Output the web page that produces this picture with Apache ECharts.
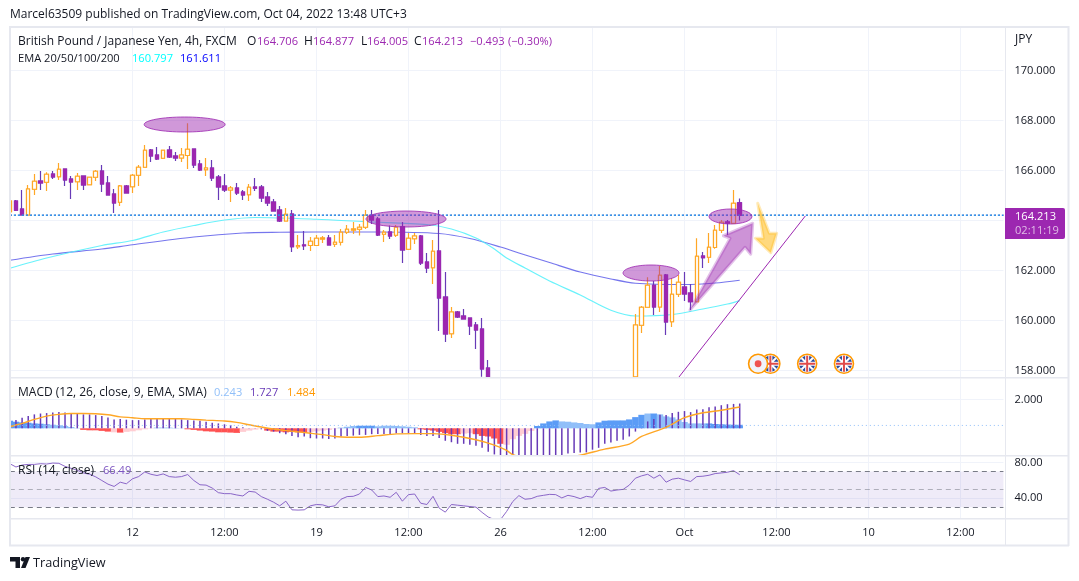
<!DOCTYPE html>
<html>
<head>
<meta charset="utf-8">
<title>GBP/JPY</title>
<script src="https://cdn.jsdelivr.net/npm/echarts@6/dist/echarts.min.js"></script>
<style>
html,body{margin:0;padding:0;background:#fff}
#chart{width:1079px;height:581px}
</style>
</head>
<body>
<div id="chart"></div>
<script>
const font = '"Open Sans", sans-serif';
const colors = { up:'#ffa726', down:'#9c27b0', downWick:'#673ab7', grid:'#f0f3fa', frame:'#e6e8ef', text:'#131722', signal:'#ffa726' };
const textSize = 12, numSize = 11.1;

// one row per 4h bar: open, close, low, high. null = bar sits below the visible price range
const candles = [
[164.35,164.78,164.3,164.8],[164.78,164.41,164.38,164.82],[164.46,164.22,164.22,165.22],[164.22,165.26,164.22,165.42],[165.25,165.57,165.02,165.86],
[165.58,165.5,165.22,165.98],[165.53,165.85,165.18,165.93],[165.86,165.74,165.66,165.98],[165.75,166.05,165.62,166.3],[166.06,165.62,165.38,166.06],
[165.66,165.54,164.86,165.78],[165.55,165.77,165.22,165.9],[165.78,165.42,165.22,165.78],[165.43,165.73,165.43,165.73],[165.73,165.97,165.58,166.02],
[165.98,165.46,165.14,166.22],[165.5,165.02,165.02,165.78],[165.06,164.7,164.3,165.26],[164.73,165.38,164.58,165.42],[165.38,165.1,165.1,165.42],
[165.35,165.81,165.1,165.86],[165.81,166.13,165.38,166.22],[166.13,166.81,166.13,167.02],[166.82,166.58,166.34,166.86],[166.62,166.46,166.42,166.94],
[166.49,166.81,166.46,166.83],[166.82,166.54,166.5,166.98],[166.58,166.5,166.38,166.74],[166.5,166.62,166.34,166.9],[166.6,166.85,166.06,167.89],
[166.86,166.22,166.1,166.86],[166.26,166.02,165.98,166.42],[166.03,166.1,165.78,166.5],[166.1,165.7,165.58,166.42],[165.74,165.34,164.82,165.82],
[165.38,165.22,165.14,165.86],[165.22,165.3,164.74,165.38],[165.3,165.1,165.02,165.5],[165.14,165.02,164.82,165.22],[165.03,165.33,164.78,165.46],
[165.34,165.29,165.18,165.7],[165.34,164.9,164.74,165.42],[164.94,164.7,164.58,165.14],[164.74,164.38,164.38,164.86],[164.42,163.98,163.94,164.58],
[163.98,164.25,163.98,164.5],[164.26,162.95,162.74,164.42],[162.95,163.0,162.86,163.42],[163.02,162.99,162.82,163.58],[163.0,163.17,162.78,163.34],
[163.0,163.29,163.0,163.42],[163.26,163.3,163.1,163.38],[163.3,163.02,163.02,163.42],[163.05,163.13,162.94,163.42],[163.13,163.53,163.0,163.66],
[163.53,163.65,163.46,163.82],[163.62,163.66,163.46,163.94],[163.65,163.73,163.4,163.86],[163.73,164.21,163.66,164.42],[164.21,164.02,163.86,164.42],
[164.06,163.42,163.38,164.14],[163.45,163.53,163.14,163.62],[163.54,163.38,163.26,163.8],[163.41,163.73,163.34,163.82],[163.75,162.82,162.3,163.94],
[162.85,163.29,162.82,163.5],[163.27,163.38,163.06,163.5],[163.38,162.3,162.22,163.42],[162.34,162.1,161.9,162.7],[162.11,162.77,161.46,163.22],
[162.78,160.9,159.58,164.42],[160.94,159.46,159.14,161.94],[159.47,160.34,159.3,160.54],[160.34,160.14,160.1,160.38],[160.18,160.06,160.06,160.46],
[160.1,159.78,159.42,160.1],[159.82,159.62,158.86,159.94],[159.66,158.06,157.75,160.1],[158.1,157.75,157.75,158.42],
null,null,null,null,null,null,null,null,null,null,null,null,null,null,null,null,null,null,null,null,null,null,null,
[157.75,159.82,157.75,160.26],[159.81,160.53,159.5,160.58],[160.53,161.41,160.53,161.73],[161.41,160.54,160.22,161.58],[160.54,161.81,160.34,162.18],
[161.82,159.94,159.42,161.86],[159.95,161.05,159.74,161.7],[161.05,161.53,160.94,161.82],[161.34,161.06,160.78,161.94],[161.1,160.75,160.42,161.46],
[160.75,162.57,160.75,163.29],[162.58,162.51,162.1,162.74],[162.53,162.93,162.3,163.5],[162.92,163.61,162.87,163.82],[163.61,163.93,163.5,164.02],
[163.94,163.9,163.42,164.02],[163.89,164.69,163.89,165.22],[164.706,164.213,164.005,164.877]
];

// moving averages as [bar, price]
const emaCyan = [[0,162.09],[6,162.5],[15,163.0],[20,163.2],[25,163.54],[30,163.8],[35,164.02],[40,164.12],[50,164.05],[58,163.95],[68,163.84],[72,163.66],[76,163.3],[79,162.86],[81,162.5],[84,162.1],[88,161.58],[93,161.02],[98,160.41],[102,160.18],[108,160.24],[113,160.46],[117,160.66],[119,160.797]];
const emaBlue = [[0,162.41],[7,162.66],[15,162.86],[20,163.03],[30,163.34],[38,163.5],[44,163.53],[50,163.54],[60,163.54],[70,163.48],[75,163.28],[80,162.94],[83,162.7],[88,162.32],[93,161.94],[98,161.66],[102,161.49],[110,161.44],[115,161.5],[119,161.611]];

const macdValues = [.45,.57,.74,.85,.97,1.03,1.06,1.10,1.13,1.10,1.06,1.03,.97,.97,.92,.85,.76,.62,.64,.60,.57,.57,.62,.69,.71,.69,.69,.67,.62,.57,
.55,.53,.46,.39,.34,.28,.23,.11,.07,.02,-.02,-.07,-.18,-.23,-.34,-.41,-.53,-.62,-.57,-.69,-.71,-.71,-.74,-.71,-.57,-.53,-.51,-.46,-.46,-.41,
-.39,-.39,-.39,-.34,-.34,-.34,-.34,-.46,-.53,-.53,-.67,-.87,-.97,-1.08,-1.08,-1.15,-1.22,-1.36,-1.63,-1.82,-1.95,-2.1,-2.2,-2.25,-2.28,-2.28,-2.24,-2.18,-2.1,-2.0,
-1.92,-1.75,-1.72,-1.68,-1.68,-1.49,-1.36,-1.08,-.99,-.87,-.80,-.57,-.23,-.02,.48,.64,.94,.92,1.06,1.15,1.20,1.13,1.31,1.33,1.47,1.52,1.61,1.68,1.70,1.727];
const signalValues = [[0,.11],[1,.23],[2,.34],[4,.62],[6,.85],[8,.97],[10,1.03],[12,1.03],[14,1.01],[16,.94],[18,.80],[20,.74],[22,.67],[24,.67],[28,.67],[30,.62],[32,.57],[35,.51],[37,.41],[39,.25],[41,.09],[43,-.05],[45,-.16],[47,-.25],[49,-.34],[51,-.44],[53,-.57],[55,-.62],[57,-.62],[60,-.51],[63,-.39],[66,-.37],[69,-.37],[72,-.48],[76,-.80],[79,-1.17],[81,-1.54],[82,-1.84],[84,-2.05],[87,-2.2],[90,-2.1],[93,-1.87],[97,-1.45],[101,-1.10],[103,-.57],[107,.07],[110,.74],[113,1.08],[116,1.26],[119,1.484]];
const histValues = [.53,.46,.41,.39,.34,.32,.30,.25,.21,.16,.09,.02,-.11,-.14,-.14,-.18,-.23,-.28,-.30,-.25,-.21,-.14,-.07,-.02,.05,.05,.05,.02,.01,-.07,
-.11,-.16,-.21,-.23,-.28,-.28,-.30,-.32,-.25,-.16,-.09,-.02,-.16,-.23,-.23,-.28,-.25,-.28,-.28,-.25,-.21,-.16,-.11,-.02,.05,.11,.16,.18,.18,.18,
.14,.18,.18,.16,.14,.11,.07,-.07,-.11,-.16,-.25,-.34,-.41,-.41,-.37,-.34,-.41,-.53,-.57,-.71,-1.08,-1.15,-.76,-.53,-.39,-.18,.16,.34,.48,.55,
.48,.46,.41,.37,.30,.28,.41,.53,.55,.55,.55,.62,.78,.94,1.03,1.03,.97,.83,.76,.62,.44,.34,.34,.34,.34,.30,.28,.26,.25,.243];
// last bar of each run, and whether the run is the strong tone
const histRuns = [[5,1],[11,0],[16,1],[17,0],[18,1],[28,0],[37,1],[41,0],[48,1],[56,0],[59,1],[66,0],[73,1],[75,0],[80,1],[85,0],[89,1],[95,0],[103,1],[104,0],[105,1],[113,0],[119,1]];
const histLast = 0.2;

const rsiValues = [78.9,75.2,77.4,78.1,78.1,78.9,78.5,79.6,79.3,75.9,73.7,71.5,68.5,67,64.1,60,55.9,53.3,58.1,56.3,61.9,64.4,69.6,67,65.6,67.4,64.4,63.7,64.4,66.7,
60,55.2,54.8,51.5,46.3,45.2,45.2,43.7,42.6,47.8,47,41.9,38.9,35.6,31.5,36.7,27,26.7,27,31.5,33,32.6,30.4,31.5,38.9,41.9,42.2,44.8,52.2,49.3,
41.9,42.6,41.1,46.7,36.7,44.1,44.8,34.4,33,42.2,28.9,24.4,33,32.2,31.5,30.7,30,24.1,18.9,16,16,25.2,36.3,43,38.9,39.6,42.2,43.3,44.4,44.1,
40.4,43.3,41.9,39.6,42.2,41.1,51.1,52.2,48.1,49.3,50,54.8,62.6,65.2,67,62.6,66.3,58.1,61.5,62.6,60.7,58.9,64.4,64.8,65.9,67.8,68.5,69.3,71.1,66.49];
const rsiLevels = [70,50,30];

const barCount = 163;
const tickBars = [20,35,50,65,80,95,110,125,140,155];
const tickLabels = ['12','12:00','19','12:00','26','12:00','Oct','12:00','10','12:00'];
const priceTicks = [158,160,162,164,166,168,170];
const macdTicks = [2];
const rsiTicks = [40,80];
const lastPrice = 164.213;

// drawings placed on the chart, in bar / price units
const ellipses = [[21.9,35.1,168.14,167.54],[58.07,71.12,164.38,163.74],[99.98,109.1,162.22,161.58],[114,121,164.46,163.86]];
const purpleArrow = [[110.9,160.42],[117.43,163.29],[116.34,163.39],[121.12,163.89],[120.8,162.65],[119.87,162.93]];
const yellowArrow = [[121.94,164.69],[123.84,163.49],[125.03,163.49],[124.06,162.71],[121.56,163.29],[122.86,163.29]];
const trendLine = [[109.1,157.74],[129.7,164.18]];
const eventMarks = [[124,158.27,'uk'],[122,158.27,'dot'],[130,158.27,'uk'],[136,158.27,'uk']];

const categories = Array.from({ length: barCount }, (_, i) => {
    const at = tickBars.indexOf(i);
    return at >= 0 ? tickLabels[at] : '';
});
const isTick = (i) => tickBars.includes(i);

function histColor(value, index) {
    const run = histRuns.find(r => index <= r[0]);
    const strong = run && run[1];
    if (value >= 0) return strong ? '#5b9cf6' : '#90bff9';
    return strong ? '#ff5252' : '#ffcdd2';
}

function renderEllipse(params, api) {
    const a = api.coord([api.value(0), api.value(2)]);
    const b = api.coord([api.value(1), api.value(3)]);
    return {
        type:'ellipse',
        shape:{ cx:(a[0]+b[0])/2, cy:(a[1]+b[1])/2, rx:(b[0]-a[0])/2, ry:(b[1]-a[1])/2 },
        style:{ fill:'rgba(156,39,176,0.48)', stroke:'rgba(156,39,176,0.8)', lineWidth:1 }
    };
}

function renderArrow(points, fill, stroke) {
    return (params, api) => ({
        type:'polygon',
        shape:{ points:points.map(p => api.coord(p)) },
        style:{ fill, stroke, lineWidth:3, lineJoin:'round' }
    });
}

function renderEvent(params, api) {
    const c = api.coord([api.value(0), api.value(1)]);
    const kind = eventMarks[params.dataIndex][2];
    const r = 8;
    const children = [{ type:'circle', shape:{ cx:c[0], cy:c[1], r:9.5 }, style:{ fill: kind === 'uk' ? '#fff' : '#f0f3fa', stroke:'#ff9800', lineWidth:1.6 } }];
    if (kind === 'dot') {
        children.push({ type:'circle', shape:{ cx:c[0], cy:c[1], r:3.4 }, style:{ fill:'#ef5350' } });
    } else {
        const d = r * 0.71;
        children.push({ type:'circle', shape:{ cx:c[0], cy:c[1], r }, style:{ fill:'#2a4a9c' } });
        [[-d,-d,d,d],[-d,d,d,-d]].forEach(s => children.push({ type:'line', shape:{ x1:c[0]+s[0], y1:c[1]+s[1], x2:c[0]+s[2], y2:c[1]+s[3] }, style:{ stroke:'#fff', lineWidth:2 } }));
        [[0,-r,0,r],[-r,0,r,0]].forEach(s => children.push({ type:'line', shape:{ x1:c[0]+s[0], y1:c[1]+s[1], x2:c[0]+s[2], y2:c[1]+s[3] }, style:{ stroke:'#fff', lineWidth:4 } }));
        [[0,-r,0,r],[-r,0,r,0]].forEach(s => children.push({ type:'line', shape:{ x1:c[0]+s[0], y1:c[1]+s[1], x2:c[0]+s[2], y2:c[1]+s[3] }, style:{ stroke:'#e04a4a', lineWidth:2 } }));
    }
    return { type:'group', children };
}

function label(x, y, text, fill, size, extra) {
    return { type:'text', x, y, z:70, silent:true, style:Object.assign({ text, fill:fill || colors.text, font:`${size || textSize}px ${font}`, textVerticalAlign:'middle' }, extra) };
}
function num(x, y, text, fill) {
    return label(x, y, text, fill, numSize);
}
function box(x, y, w, h, fill, z) {
    return { type:'rect', x, y, z:z || 60, silent:true, shape:{ width:w, height:h }, style:{ fill } };
}

const purple = '#9c27b0';
const graphics = [
    // candle and histogram overhang left of the pane
    box(0,27,9,519,'#fff',55),
    // chart frame and pane separators
    box(9,26,1060,2,colors.frame), box(9,26,2,520,colors.frame), box(1067.5,26,2,520,colors.frame), box(9,544.5,1060,2,colors.frame),
    box(1005,26,1,520,colors.frame), box(10,377,1059,1.5,colors.frame), box(10,455,1059,1.5,colors.frame), box(10,518,1059,1.5,colors.frame),
    label(10,15,'Marcel63509 published on TradingView.com, Oct 04, 2022 13:48 UTC+3'),
    label(18,42,'British Pound / Japanese Yen, 4h, FXCM'),
    label(247,42,'O'), num(257,42,'164.706',purple), label(304,42,'H'), num(313,42,'164.877',purple),
    label(361,42,'L'), num(367,42,'164.005',purple), label(414,42,'C'), num(422,42,'164.213',purple),
    num(470,42,'\u22120.493',purple), num(508,42,'(\u22120.30%)',purple),
    num(18,58.5,'EMA 20/50/100/200'), num(132,58.5,'160.797','#00ffff'), num(180,58.5,'161.611','#0000ff'),
    label(18,393,'MACD (12, 26, close, 9, EMA, SMA)'), num(214,393,'0.243','#90bff9'), num(250,393,'1.727','#673ab7'), num(287,393,'1.484','#ff9800'),
    label(18,471,'RSI (14, close)'), num(103,471,'66.49','#7e57c2'),
    label(1015,40,'JPY'),
    // last price tag
    { type:'rect', x:1005, y:208, z:65, silent:true, shape:{ width:60, height:31, r:[0,2,2,0] }, style:{ fill:purple } },
    num(1015,217,'164.213','#fff'), num(1015,231,'02:11:19','#e1bee7'),
    // TradingView logo and name
    { type:'polygon', z:70, silent:true, shape:{ points:[[10,557],[20,557],[20,568],[15.5,568],[15.5,561.5],[10,561.5]] }, style:{ fill:'#131722' } },
    { type:'polygon', z:70, silent:true, shape:{ points:[[25.5,557],[30,557],[25.5,568],[21,568]] }, style:{ fill:'#131722' } },
    { type:'circle', z:70, silent:true, shape:{ cx:23, cy:559.3, r:2.2 }, style:{ fill:'#131722' } },
    label(33,563,'TradingView','#131722',12.7)
];

const gridLeft = 9.83, gridWidth = 993.6;
const xBase = { type:'category', data:categories, boundaryGap:false, axisTick:{ show:false }, axisLine:{ show:false } };
const vLines = { show:true, interval:(i) => isTick(i), lineStyle:{ color:colors.grid, width:1 } };
const yBase = (gridIndex, min, max, ticks, digits) => ({
    type:'value', gridIndex, position:'right', min, max,
    axisLine:{ show:false },
    axisTick:{ show:false, customValues:ticks },
    axisLabel:{ margin:11, color:colors.text, fontFamily:font, fontSize:numSize, customValues:ticks, formatter:(v) => v.toFixed(digits) },
    splitLine:{ show:true, lineStyle:{ color:colors.grid, width:1 } }
});

const chart = echarts.init(document.getElementById('chart'), null, { renderer:'canvas' });
chart.setOption({
    animation:false,
    backgroundColor:'#fff',
    graphic:{ elements:graphics },
    grid:[
        { left:gridLeft, width:gridWidth, top:27.5, height:349.5 },
        { left:gridLeft, width:gridWidth, top:378.5, height:76.5 },
        { left:gridLeft, width:gridWidth, top:456.5, height:61.5 }
    ],
    xAxis:[
        Object.assign({}, xBase, { gridIndex:0, axisLabel:{ show:false }, splitLine:vLines }),
        { type:'value', gridIndex:0, min:0, max:barCount-1, show:false },
        Object.assign({}, xBase, { gridIndex:1, axisLabel:{ show:false }, splitLine:vLines }),
        Object.assign({}, xBase, { gridIndex:1, show:false }),
        Object.assign({}, xBase, { gridIndex:2, splitLine:vLines,
            axisLabel:{ interval:(i) => isTick(i), margin:9, color:colors.text, fontFamily:font, fontSize:numSize, hideOverlap:false } })
    ],
    yAxis:[
        yBase(0,157.74,171.72,priceTicks,3),
        yBase(1,-1.86,3.47,macdTicks,3),
        yBase(2,17.8,87,rsiTicks,2)
    ],
    series:[
        { type:'line', name:'EMA 100', xAxisIndex:0, yAxisIndex:0, data:emaBlue, showSymbol:false, smooth:0.3, z:2,
          lineStyle:{ color:'rgba(60,60,230,0.7)', width:1.2 } },
        { type:'line', name:'EMA 50', xAxisIndex:0, yAxisIndex:0, data:emaCyan, showSymbol:false, smooth:0.3, z:2,
          lineStyle:{ color:'rgba(80,240,250,0.85)', width:1.2 } },
        { type:'candlestick', name:'wicks', xAxisIndex:0, yAxisIndex:0, barWidth:4, z:3,
          data:candles.map(c => c ? c : ['-','-','-','-']),
          itemStyle:{ color:'#fff', color0:colors.down, borderColor:colors.up, borderColor0:colors.downWick, borderWidth:1.2 } },
        { type:'candlestick', name:'bodies', xAxisIndex:0, yAxisIndex:0, barWidth:4, z:4,
          data:candles.map(c => c ? [c[0],c[1],Math.min(c[0],c[1]),Math.max(c[0],c[1])] : ['-','-','-','-']),
          itemStyle:{ color:'#fff', color0:colors.down, borderColor:colors.up, borderColor0:colors.down, borderWidth:1.2 } },
        { type:'line', name:'last price 2', xAxisIndex:1, yAxisIndex:0, data:[[0,lastPrice],[barCount-1,lastPrice]], showSymbol:false, z:5,
          lineStyle:{ color:'#b5487a', width:1.5, type:[1,3], dashOffset:3 } },
        { type:'line', name:'last price', xAxisIndex:1, yAxisIndex:0, data:[[0,lastPrice],[barCount-1,lastPrice]], showSymbol:false, z:5,
          lineStyle:{ color:'#2196f3', width:1.5, type:[2,2] } },
        { type:'line', name:'trend', xAxisIndex:1, yAxisIndex:0, data:trendLine, showSymbol:false, z:6,
          lineStyle:{ color:purple, width:1 } },
        { type:'custom', name:'ellipses', xAxisIndex:1, yAxisIndex:0, z:7, data:ellipses, encode:{ x:[0,1], y:[2,3] }, renderItem:renderEllipse },
        { type:'custom', name:'purple arrow', xAxisIndex:1, yAxisIndex:0, z:8, data:[purpleArrow[0]], encode:{ x:0, y:1 },
          renderItem:renderArrow(purpleArrow,'rgba(156,39,176,0.5)','rgba(156,39,176,0.28)') },
        { type:'custom', name:'yellow arrow', xAxisIndex:1, yAxisIndex:0, z:8, data:[yellowArrow[0]], encode:{ x:0, y:1 },
          renderItem:renderArrow(yellowArrow,'rgba(255,179,0,0.5)','rgba(255,179,0,0.28)') },
        { type:'custom', name:'events', xAxisIndex:1, yAxisIndex:0, z:9, data:eventMarks.map(e => [e[0],e[1]]), encode:{ x:0, y:1 }, renderItem:renderEvent },

        { type:'bar', name:'histogram', xAxisIndex:3, yAxisIndex:1, barWidth:6.5, z:2,
          data:histValues.map((v,i) => ({ value:v, itemStyle:{ color:histColor(v,i) } })) },
        { type:'bar', name:'MACD', xAxisIndex:2, yAxisIndex:1, barWidth:1.5, z:3, data:macdValues, itemStyle:{ color:'#673ab7' } },
        { type:'line', name:'signal', xAxisIndex:2, yAxisIndex:1, data:signalValues, showSymbol:false, smooth:0.3, z:4,
          lineStyle:{ color:colors.signal, width:1.4 } },
        { type:'line', name:'hist last', xAxisIndex:2, yAxisIndex:1, data:[[0,histLast],[barCount-1,histLast]], showSymbol:false, z:4,
          lineStyle:{ color:'#90bff9', width:1, type:[1,3] } },

        { type:'line', name:'RSI', xAxisIndex:4, yAxisIndex:2, data:rsiValues, showSymbol:false, z:4,
          lineStyle:{ color:'#7e57c2', width:1, opacity:0.9 },
          markArea:{ silent:true, itemStyle:{ color:'rgba(126,87,194,0.12)' }, data:[[{ yAxis:30 },{ yAxis:70 }]] },
          markLine:{ silent:true, symbol:'none', label:{ show:false },
            data:rsiLevels.map(v => ({ yAxis:v, lineStyle:{ color: v === 50 ? 'rgba(120,123,134,0.55)' : '#787b86', width:1, type:[5,4] } })) } }
    ]
});
</script>
</body>
</html>
